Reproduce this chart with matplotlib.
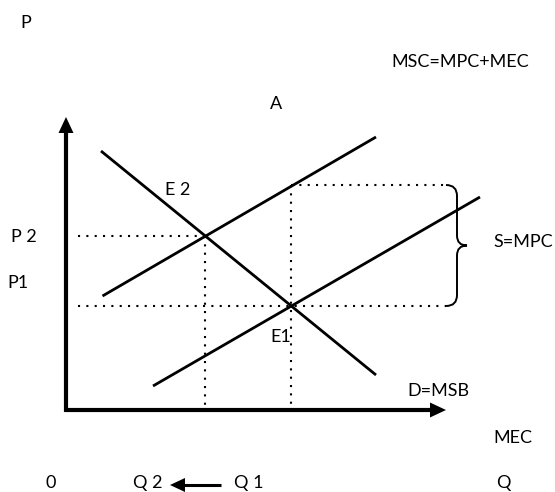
import matplotlib.pyplot as plt
from matplotlib.path import Path
from matplotlib.patches import PathPatch, Polygon

plt.rcParams['font.family'] = ['Lato', 'DejaVu Sans']

# curve end points, in picture units (x right, y down)
demand_x = [101, 376]
demand_y = [151, 375]
msc_x = [102.5, 376]
msc_y = [296, 137]
mpc_x = [153, 480]
mpc_y = [386, 197]

# equilibrium points and guide levels
e2 = (205, 236)
e1 = (290.5, 306)
top_level = 185
guide_left = 78
guide_right = 446

axis_origin = (66, 410)
y_axis_top = 117
x_axis_end = 446

labels = [
    ("P", 26, 23),
    ("MSC=MPC+MEC", 460, 62),
    ("A", 276, 104),
    ("E 2", 178, 190),
    ("P 2", 24, 237),
    ("S=MPC", 523, 242),
    ("P1", 18, 283),
    ("E1", 281, 337),
    ("D=MSB", 438, 391),
    ("MEC", 513, 438),
    ("0", 51, 483),
    ("Q 2", 148, 483),
    ("Q 1", 249, 483),
    ("Q", 503, 483),
]


def head(ax, tip, direction, length, width):
    # filled triangular arrow head; direction is a unit vector
    tx, ty = tip
    dx, dy = direction
    bx, by = tx - dx * length, ty - dy * length
    px, py = -dy * width / 2, dx * width / 2
    ax.add_patch(Polygon([(tx, ty), (bx + px, by + py), (bx - px, by - py)],
                         closed=True, color='black', lw=0))


fig = plt.figure(figsize=(5.55, 4.92), dpi=100)
ax = fig.add_axes([0, 0, 1, 1])
ax.set_xlim(0, 555)
ax.set_ylim(492, 0)
ax.axis('off')

# axes with arrows
ox, oy = axis_origin
ax.plot([ox, ox], [oy + 1.5, y_axis_top + 12], color='black', lw=3, solid_capstyle='butt')
ax.plot([ox - 1.5, x_axis_end - 12], [oy, oy], color='black', lw=3, solid_capstyle='butt')
head(ax, (ox, y_axis_top), (0, -1), 16, 15)
head(ax, (x_axis_end, oy), (1, 0), 16, 15)

# curves
for xs, ys in [(demand_x, demand_y), (msc_x, msc_y), (mpc_x, mpc_y)]:
    ax.plot(xs, ys, color='black', lw=2, solid_capstyle='butt')

# dotted guides
dot = dict(color='black', lw=1.5, linestyle=(0, (1, 3)))
ax.plot([guide_left, e2[0]], [e2[1], e2[1]], **dot)
ax.plot([e2[0], e2[0]], [e2[1], oy - 3], **dot)
ax.plot([e1[0], e1[0]], [top_level, oy - 3], **dot)
ax.plot([e1[0], guide_right], [top_level, top_level], **dot)
ax.plot([guide_left, guide_right], [e1[1], e1[1]], **dot)

# brace
bx, tip = 457, 467
mid = (top_level + e1[1]) / 2
verts = [(guide_right, top_level), (bx, top_level), (bx, top_level + 11),
         (bx, mid - 10), (bx, mid), (tip, mid),
         (bx, mid), (bx, mid + 10),
         (bx, e1[1] - 11), (bx, e1[1]), (guide_right, e1[1])]
codes = [Path.MOVETO, Path.CURVE3, Path.CURVE3,
         Path.LINETO, Path.CURVE3, Path.CURVE3,
         Path.CURVE3, Path.CURVE3,
         Path.LINETO, Path.CURVE3, Path.CURVE3]
ax.add_patch(PathPatch(Path(verts, codes), fill=False, lw=1.4, color='black'))

# Q1 -> Q2 arrow
ax.plot([221, 182], [485, 485], color='black', lw=2.2, solid_capstyle='butt')
head(ax, (170, 485), (-1, 0), 15, 14)

for txt, x, y in labels:
    ax.text(x, y, txt, ha='center', va='center', fontsize=13)

fig.savefig('out.png', dpi=100)
